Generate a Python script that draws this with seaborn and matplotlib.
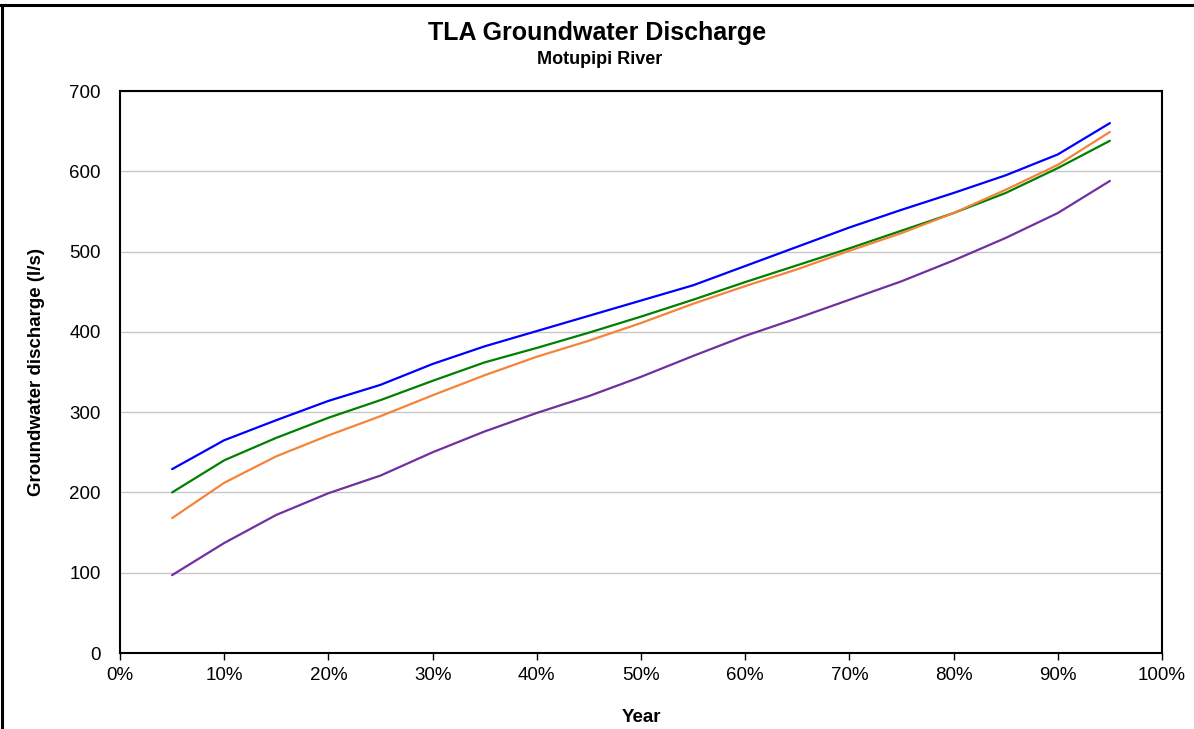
import matplotlib
matplotlib.use("Agg")
import matplotlib.pyplot as plt
from matplotlib.lines import Line2D
from matplotlib.ticker import FuncFormatter, MultipleLocator
import seaborn as sns
import pandas as pd

# ---- data ----
exceedance = [0.05, 0.10, 0.15, 0.20, 0.25, 0.30, 0.35, 0.40, 0.45, 0.50,
              0.55, 0.60, 0.65, 0.70, 0.75, 0.80, 0.85, 0.90, 0.95]
series_blue = [229, 265, 290, 314, 334, 360, 382, 401, 420, 439,
               458, 482, 506, 530, 552, 573, 595, 621, 660]
series_green = [200, 240, 268, 293, 315, 339, 362, 380, 399, 419,
                440, 462, 483, 504, 526, 548, 573, 604, 638]
series_orange = [168, 212, 245, 271, 295, 321, 346, 369, 389, 411,
                 435, 457, 478, 501, 523, 548, 577, 608, 649]
series_purple = [97, 137, 172, 199, 221, 250, 276, 299, 320, 344,
                 370, 395, 417, 440, 463, 489, 517, 548, 588]
series_names = ["Series 1", "Series 2", "Series 3", "Series 4"]
series_colors = ["#0000FF", "#008000", "#F5843A", "#7030A0"]

frames = []
for name, vals in zip(series_names, [series_blue, series_green, series_orange, series_purple]):
    frames.append(pd.DataFrame({"x": exceedance, "y": vals, "series": name}))
df = pd.concat(frames, ignore_index=True)

sns.set_theme(style="white")
plt.rcParams["font.family"] = ["Liberation Sans", "DejaVu Sans"]

W, H = 1194, 729
fig = plt.figure(figsize=(W / 100, H / 100), dpi=100)
ax_l, ax_r, ax_t, ax_b = 120, 1162, 91, 653
ax = fig.add_axes([ax_l / W, 1 - ax_b / H, (ax_r - ax_l) / W, (ax_b - ax_t) / H])

sns.lineplot(data=df, x="x", y="y", hue="series", palette=dict(zip(series_names, series_colors)),
             linewidth=1.6, ax=ax, legend=False, sort=False)

ax.set_xlim(0, 1)
ax.set_ylim(0, 700)
ax.xaxis.set_major_locator(MultipleLocator(0.1))
ax.yaxis.set_major_locator(MultipleLocator(100))
ax.xaxis.set_major_formatter(FuncFormatter(lambda v, p: f"{v*100:.0f}%"))
ax.grid(axis="y", color="#c8c8c8", linewidth=1.0)
ax.grid(axis="x", visible=False)
ax.set_axisbelow(True)

for s in ax.spines.values():
    s.set_visible(True)
    s.set_color("black")
    s.set_linewidth(1.5)

ax.tick_params(axis="x", which="major", bottom=True, length=5, width=1, color="black",
               pad=5, labelsize=13.5, labelcolor="black")
ax.tick_params(axis="y", which="major", left=False, length=0, pad=14,
               labelsize=13.5, labelcolor="black")

ax.set_xlabel("Year", fontsize=13.5, fontweight="bold", color="black")
ax.set_ylabel("Groundwater discharge (l/s)", fontsize=13.5, fontweight="bold", color="black")
ax.xaxis.set_label_coords(0.5, -(718 - ax_b) / (ax_b - ax_t))
ax.xaxis.label.set_va("center")
ax.yaxis.set_label_coords(-(ax_l - 37) / (ax_r - ax_l), 0.5)
ax.yaxis.label.set_va("center")

fig.text(597 / W, 1 - 33 / H, "TLA Groundwater Discharge", ha="center", va="center",
         fontsize=18, fontweight="bold", color="black")
fig.text(600 / W, 1 - 59 / H, "Motupipi River", ha="center", va="center",
         fontsize=13, fontweight="bold", color="black")

# outer chart-area border (left and top edges visible in the crop)
fig.add_artist(Line2D([1.5 / W, 1.5 / W], [0, 1 - 4.5 / H], transform=fig.transFigure,
                      color="black", linewidth=2.2))
fig.add_artist(Line2D([0, 1], [1 - 4.5 / H, 1 - 4.5 / H], transform=fig.transFigure,
                      color="black", linewidth=2.2))

fig.savefig("out.png", dpi=100)
